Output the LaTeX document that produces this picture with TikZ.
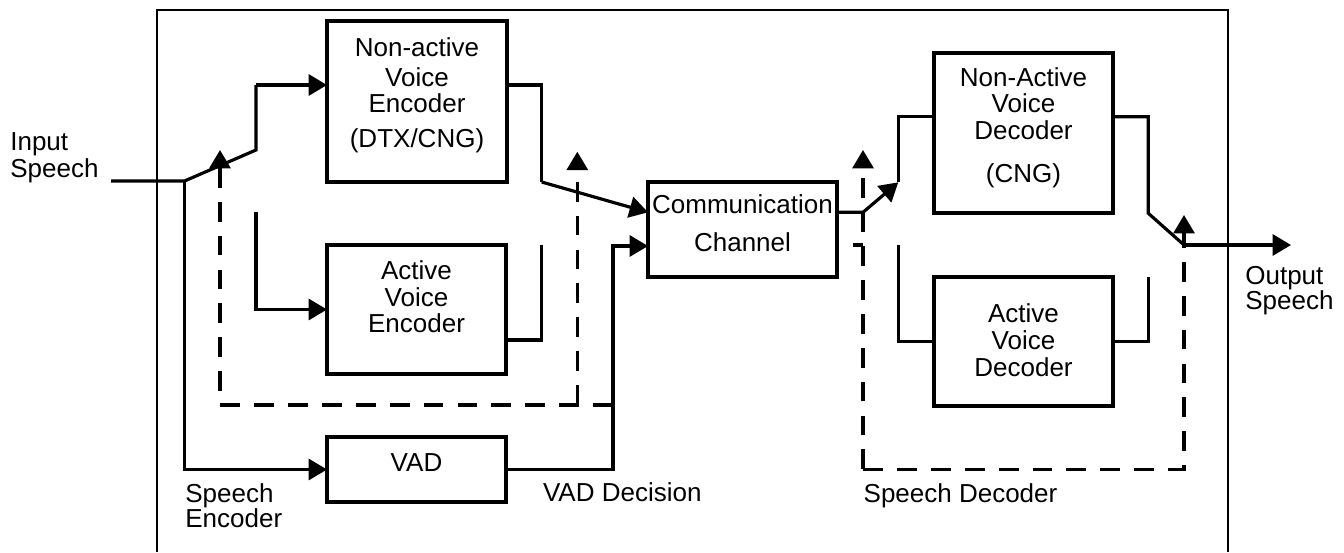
\documentclass[tikz,border=0pt]{standalone}
\usepackage{fontspec}
\setmainfont{Liberation Sans}
\usetikzlibrary{arrows.meta}
\begin{document}
\begin{tikzpicture}[x=0.02cm, y=-0.02cm,
  conn/.style={line width=1.8pt},
  arr/.style={conn, -{Triangle[length=10.5pt,width=12pt]}},
  dsh/.style={conn, dash pattern=on 11.3pt off 8pt},
  darr/.style={dsh, -{Triangle[length=10.5pt,width=12pt]}},
  box/.style={draw, line width=1.8pt, rectangle, inner sep=0pt, outer sep=0pt},
  txt/.style={font=\fontsize{14.8}{16}\selectfont, inner sep=0pt, text height=10.6pt, text depth=0pt},
  lbl/.style={txt, anchor=west},
  frame/.style={line width=1pt}]
\useasboundingbox (0,0) rectangle (1344,552);
% outer frame
\draw[frame] (157,552) -- (157,10) -- (1228,10) -- (1228,552);
% boxes
\node[box, minimum width=3.6cm,  minimum height=3.22cm] (nae)  at (417,101.5) {};
\node[box, minimum width=3.58cm, minimum height=2.58cm] (ae)   at (416.5,309.5) {};
\node[box, minimum width=3.58cm, minimum height=1.3cm]  (vad)  at (416.5,469.5) {};
\node[box, minimum width=3.78cm, minimum height=1.9cm]  (comm) at (742.5,229.5) {};
\node[box, minimum width=3.58cm, minimum height=3.2cm]  (nad)  at (1023.5,133) {};
\node[box, minimum width=3.58cm, minimum height=2.58cm] (ad)   at (1023.5,341.5) {};
% box texts
\node[txt] (nae1) at (417,47) {Non-active};
\node[txt] (nae2) at (417,77) {Voice};
\node[txt] (nae3) at (417,103.3) {Encoder};
\node[txt] (nae4) at (417,138.3) {(DTX/CNG)};
\node[txt] (ae1) at (416.5,270) {Active};
\node[txt] (ae2) at (416.5,296.7) {Voice};
\node[txt] (ae3) at (416.5,323.3) {Encoder};
\node[txt] (vad1) at (416.5,461.7) {VAD};
\node[txt] (comm1) at (742.5,204) {Communication};
\node[txt] (comm2) at (742.5,242) {Channel};
\node[txt] (nad1) at (1023.5,76.7) {Non-Active};
\node[txt] (nad2) at (1023.5,103.3) {Voice};
\node[txt] (nad3) at (1023.5,130) {Decoder};
\node[txt] (nad4) at (1023.5,173.3) {(CNG)};
\node[txt] (ad1) at (1023.5,313.3) {Active};
\node[txt] (ad2) at (1023.5,340) {Voice};
\node[txt] (ad3) at (1023.5,366.7) {Decoder};
% free labels
\node[lbl] (in1) at (10,141) {Input};
\node[lbl] (in2) at (10,168.5) {Speech};
\node[lbl] (se1) at (185,493.3) {Speech};
\node[lbl] (se2) at (185,518.3) {Encoder};
\node[lbl] (vd) at (542.7,492.5) {VAD Decision};
\node[lbl] (sd) at (863.3,492.7) {Speech Decoder};
\node[lbl] (os1) at (1245,275) {Output};
\node[lbl] (os2) at (1245,300) {Speech};
% junction coordinates
\coordinate (in0) at (111,181);
\coordinate (j1) at (184.5,181);
\coordinate (sw1) at (256,150);
\coordinate (a1) at (256,85);
\coordinate (a2) at (256,212);
\coordinate (naeo) at (541.7,85);
\coordinate (naeo2) at (541.7,182);
\coordinate (aeo) at (541.7,340);
\coordinate (aeo2) at (541.7,245);
\coordinate (vdo2) at (613,246);
\coordinate (dend) at (613,405);
\coordinate (dl) at (220,405);
\coordinate (dlt) at (220,150);
\coordinate (dr) at (577.3,405);
\coordinate (drt) at (577.3,151.7);
\coordinate (co) at (863,212.3);
\coordinate (sw2) at (898.3,182.3);
\coordinate (b1) at (898.3,116.7);
\coordinate (b2) at (898.3,245);
\coordinate (stub0) at (853,245);
\coordinate (stub1) at (863,245);
\coordinate (nado) at (1148.3,116.7);
\coordinate (nado2) at (1148.3,213.3);
\coordinate (sw3) at (1184,245);
\coordinate (out) at (1291,245);
\coordinate (ado) at (1148.3,276.7);
\coordinate (ddl) at (863,469.3);
\coordinate (ddlt) at (863,150);
\coordinate (ddr) at (1184,469.3);
\coordinate (ddrt) at (1184,215);
% encoder side
\draw[conn] (in0) -- (j1) -- (sw1) -- (a1);
\draw[arr] (a1) -- (a1 -| nae.west);
\draw[arr] (j1) |- (vad.west);
\draw[arr] (a2) |- (ae.west);
\draw[conn] (naeo -| nae.east) -- (naeo) -- (naeo2);
\draw[arr] (naeo2) -- (comm.west |- co);
\draw[conn] (aeo -| ae.east) -- (aeo) -- (aeo2);
\draw[arr] (vad.east) -| (vdo2) -- (vdo2 -| comm.west);
\draw[darr] (dend) -- (dl) -- (dlt);
\draw[darr] (dr) -- (drt);
% decoder side
\draw[arr] (comm.east |- co) -- (co) -- (sw2);
\draw[conn] (sw2) -- (b1) -- (b1 -| nad.west);
\draw[conn] (stub0) -- (stub1);
\draw[conn] (b2) |- (ad.west);
\draw[conn] (nado -| nad.east) -- (nado) -- (nado2) -- (sw3);
\draw[arr] (sw3) -- (out);
\draw[conn] (ad.east) -| (ado);
\draw[darr] (ddl) -- (ddlt);
\draw[darr] (ddl) -- (ddr) -- (ddrt);
\end{tikzpicture}
\end{document}
